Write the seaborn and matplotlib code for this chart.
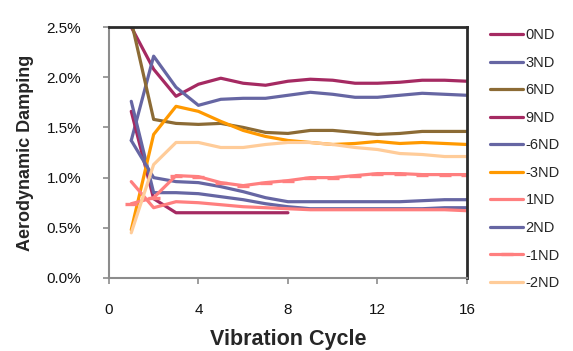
import numpy as np
import pandas as pd
import matplotlib
matplotlib.use("Agg")
import matplotlib.pyplot as plt
import seaborn as sns
from matplotlib.ticker import FuncFormatter, MultipleLocator

sns.set_theme(style="white")
plt.rcParams['font.family'] = ['Liberation Sans', 'DejaVu Sans']

cycles = list(range(1, 17))
series_names = ["0ND", "3ND", "6ND", "9ND", "-6ND", "-3ND", "1ND", "2ND", "-1ND", "-2ND"]
v_0ND = [2.50, 2.08, 1.81, 1.93, 1.99, 1.94, 1.92, 1.96, 1.98, 1.97, 1.94, 1.94, 1.95, 1.97, 1.97, 1.96]
v_3ND = [1.37, 2.21, 1.90, 1.72, 1.78, 1.79, 1.79, 1.82, 1.85, 1.83, 1.80, 1.80, 1.82, 1.84, 1.83, 1.82]
v_6ND = [2.56, 1.58, 1.54, 1.53, 1.54, 1.50, 1.45, 1.44, 1.47, 1.47, 1.45, 1.43, 1.44, 1.46, 1.46, 1.46]
v_9ND = [1.66, 0.79, 0.65, 0.65, 0.65, 0.65, 0.65, 0.65]
v_m6ND = [1.76, 0.85, 0.85, 0.84, 0.81, 0.78, 0.74, 0.71, 0.69, 0.69, 0.69, 0.69, 0.69, 0.69, 0.70, 0.70]
v_m3ND = [0.48, 1.43, 1.71, 1.66, 1.56, 1.47, 1.41, 1.37, 1.35, 1.33, 1.34, 1.36, 1.34, 1.35, 1.34, 1.33]
v_1ND = [0.96, 0.70, 0.76, 0.75, 0.73, 0.71, 0.70, 0.69, 0.68, 0.68, 0.68, 0.68, 0.68, 0.68, 0.68, 0.67]
v_2ND = [1.37, 1.00, 0.96, 0.95, 0.91, 0.86, 0.80, 0.76, 0.76, 0.76, 0.76, 0.76, 0.76, 0.77, 0.78, 0.78]
v_m1ND = [0.74, 0.80, 1.02, 1.01, 0.95, 0.92, 0.95, 0.97, 1.00, 1.00, 1.02, 1.04, 1.04, 1.03, 1.03, 1.03]
v_m2ND = [0.45, 1.13, 1.35, 1.35, 1.30, 1.30, 1.33, 1.35, 1.35, 1.33, 1.30, 1.28, 1.24, 1.23, 1.21, 1.21]

values = [v_0ND, v_3ND, v_6ND, v_9ND, v_m6ND, v_m3ND, v_1ND, v_2ND, v_m1ND, v_m2ND]
colors = ["#A52A62", "#6666A3", "#8C6B35", "#A52A62", "#6666A3",
          "#FF9900", "#FF7F7F", "#6666A3", "#FF7F7F", "#FFCC99"]

fig = plt.figure(figsize=(5.73, 3.51), dpi=100)
ax = fig.add_axes([0.190, 0.208, 0.625, 0.715])

for name, vals, col in zip(series_names, values, colors):
    df = pd.DataFrame({"cycle": cycles[:len(vals)], "damping": vals})
    kw = {}
    if name == "-1ND":
        kw = dict(marker="_", markersize=9, markeredgewidth=2.4, markeredgecolor=col)
    sns.lineplot(data=df, x="cycle", y="damping", ax=ax, color=col, linewidth=2.3,
                 label=name, **kw)

ax.set_xlim(0, 16)
ax.set_ylim(0, 2.5)
ax.xaxis.set_major_locator(MultipleLocator(4))
ax.yaxis.set_major_locator(MultipleLocator(0.5))
ax.yaxis.set_major_formatter(FuncFormatter(lambda v, p: f"{v:.1f}%"))

for s in ["left", "bottom"]:
    ax.spines[s].set_color("#8C8C8C")
    ax.spines[s].set_linewidth(1.5)
for s in ["top", "right"]:
    ax.spines[s].set_color("#2B2B2B")
    ax.spines[s].set_linewidth(2.0)

ax.tick_params(axis="both", which="major", direction="out", length=4, width=1.2,
               color="#8C8C8C", labelsize=11, labelcolor="#111111")
ax.tick_params(axis="x", pad=14)
ax.tick_params(axis="y", pad=16)
ax.tick_params(left=True, bottom=True)

ax.set_xlabel("Vibration Cycle", fontsize=15.5, fontweight="bold", labelpad=9)
ax.set_ylabel("Aerodynamic Damping", fontsize=13, fontweight="bold", labelpad=9)

ax.legend(loc="upper left", bbox_to_anchor=(0.856, 0.92), bbox_transform=fig.transFigure,
          frameon=False, fontsize=10.5, labelspacing=0.93, handlelength=2.2,
          handletextpad=0.2, borderaxespad=0, borderpad=0)

fig.savefig("out.png", dpi=100)
